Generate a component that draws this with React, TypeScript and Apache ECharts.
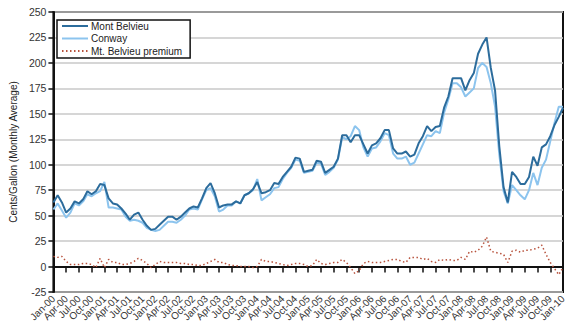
import React, { useEffect, useRef } from "react";
import * as echarts from "echarts";

const years = ["00", "01", "02", "03", "04", "05", "06", "07", "08", "09", "10"];
const monthNames = ["Jan", "Feb", "Mar", "Apr", "May", "Jun", "Jul", "Aug", "Sep", "Oct", "Nov", "Dec"];
const categories: string[] = [];
years.forEach((y, yi) => {
  monthNames.forEach((m, mi) => {
    if (yi === years.length - 1 && mi > 0) return;
    categories.push(`${m}-${y}`);
  });
});

const yTicks = { min: -25, max: 250, interval: 25 };

const montBelvieu = [
  63, 70, 63, 53, 57, 64, 62, 66, 74, 71, 74, 81,
  80, 67, 62, 61, 57, 52, 46, 51, 53, 46, 40, 36,
  37, 41, 45, 49, 49, 46, 49, 53, 57, 59, 58, 67,
  77, 82, 72, 58, 60, 61, 61, 64, 62, 70, 72, 76,
  83, 72, 73, 75, 82, 81, 88, 93, 98, 107, 106, 93,
  94, 95, 104, 103, 92, 95, 98, 106, 129, 129, 122, 129,
  129, 120, 111, 119, 121, 126, 134, 134, 116, 111, 111, 113,
  108, 110, 121, 128, 138, 133, 137, 138, 156, 167, 185, 185,
  185, 173, 183, 190, 209, 218, 225, 195, 173, 118, 78, 63,
  93, 88, 81, 81, 88, 108, 99, 117, 120, 128, 139, 147,
  156,
];

const conway = [
  56, 62, 55, 48, 53, 62, 60, 64, 71, 69, 72, 74,
  83, 58, 58, 57, 56, 49, 45, 46, 45, 43, 38, 36,
  35, 36, 40, 44, 44, 43, 46, 50, 56, 57, 56, 66,
  75, 77, 69, 54, 56, 60, 60, 64, 62, 70, 72, 75,
  86, 65, 68, 71, 77, 78, 86, 92, 97, 105, 104, 92,
  93, 94, 102, 101, 90, 93, 97, 105, 127, 125, 128, 138,
  134, 117, 108, 116, 117, 123, 131, 129, 111, 106, 106, 108,
  100, 102, 111, 120, 129, 128, 133, 131, 151, 164, 180, 180,
  176, 167, 171, 175, 195, 200, 196, 180, 157, 110, 74, 62,
  80, 75, 70, 66, 75, 92, 80, 97, 105, 123, 141, 157,
  157,
];

const premium = [
  10, 9, 10, 5, 2, 2, 2, 3, 3, 2, -1, 8,
  -1, 7, 4, 4, 2, 2, 3, 5, 8, 6, 3, -1,
  2, 5, 4, 4, 4, 4, 3, 3, 2, 2, 1, 1,
  3, 5, 7, 4, 4, 2, 1, 1, 0, 0, 0, -1,
  0, 7, 5, 5, 4, 3, 2, 1, 2, 3, 3, 2,
  0, 1, 7, 3, 2, 3, 4, 4, 7, 4, -1, -7,
  -4, 3, 5, 4, 4, 4, 5, 6, 7, 7, 5, 4,
  9, 9, 9, 7, 8, 5, 4, 7, 6, 7, 6, 6,
  9, 7, 15, 14, 16, 20, 29, 15, 14, 13, 12, 4,
  15, 16, 14, 16, 16, 17, 18, 21, 12, 4, -2, -8,
  -1,
];

const FONT = "'Liberation Sans', Arial, Helvetica, sans-serif";

export default function App() {
  const ref = useRef<HTMLDivElement>(null);
  useEffect(() => {
    if (!ref.current) return;
    const chart = echarts.init(ref.current, undefined, { renderer: "svg" });
    chart.setOption({
      animation: false,
      backgroundColor: "#ffffff",
      textStyle: { fontFamily: FONT },
      grid: {
        left: 41,
        right: 12,
        top: 12,
        bottom: 44,
        show: true,
        borderColor: "#111",
        borderWidth: 2,
        backgroundColor: "transparent",
      },
      legend: {
        orient: "vertical",
        left: 57,
        top: 20,
        padding: [1, 8, 2, 4],
        itemGap: 2.5,
        itemWidth: 26,
        itemHeight: 12,
        borderColor: "#111",
        borderWidth: 1.5,
        borderRadius: 0,
        backgroundColor: "#fff",
        textStyle: { fontFamily: FONT, fontSize: 10, color: "#222", padding: [0, 0, 0, -2] },
        data: [
          { name: "Mont Belvieu", itemStyle: { opacity: 0 } },
          { name: "Conway", itemStyle: { opacity: 0 } },
          { name: "Mt. Belvieu premium", itemStyle: { opacity: 0 } },
        ],
      },
      xAxis: {
        type: "category",
        data: categories,
        boundaryGap: false,
        axisLine: { show: true, lineStyle: { color: "#111", width: 2 } },
        axisTick: { show: true, interval: 2, length: 6, lineStyle: { color: "#111", width: 1.5 } },
        axisLabel: {
          interval: 0,
          formatter: (value: string, index: number) => (index % 3 === 0 ? value : ""),
          rotate: 45,
          fontSize: 10,
          color: "#333",
          fontFamily: FONT,
          margin: 5,
          showMinLabel: true,
          showMaxLabel: true,
          hideOverlap: false,
        },
        splitLine: { show: false },
      },
      yAxis: {
        type: "value",
        min: yTicks.min,
        max: yTicks.max,
        interval: yTicks.interval,
        name: "Cents/Gallon (Monthly Average)",
        nameLocation: "middle",
        nameGap: 28,
        nameRotate: 90,
        nameTextStyle: { fontSize: 10, color: "#222", fontFamily: FONT },
        axisLine: { show: true, lineStyle: { color: "#111", width: 2 } },
        axisTick: { show: true, length: 5, lineStyle: { color: "#111", width: 1.5 } },
        axisLabel: { fontSize: 10.5, color: "#333", fontFamily: FONT, margin: 7 },
        splitLine: { show: true, lineStyle: { color: "#c8c8c8", width: 1.5 } },
      },
      series: [
        {
          name: "Conway",
          type: "line",
          data: conway,
          symbol: "none",
          z: 2,
          itemStyle: { color: "#8cc4ee" },
          lineStyle: { color: "#8cc4ee", width: 2 },
        },
        {
          name: "Mont Belvieu",
          type: "line",
          data: montBelvieu,
          symbol: "none",
          z: 3,
          itemStyle: { color: "#2c6c9c" },
          lineStyle: { color: "#2c6c9c", width: 2 },
        },
        {
          name: "Mt. Belvieu premium",
          type: "line",
          data: premium,
          symbol: "none",
          z: 4,
          itemStyle: { color: "#b8533d" },
          lineStyle: { color: "#b8533d", width: 1.5, type: [1.5, 2.5] },
        },
      ],
    });
    return () => chart.dispose();
  }, []);
  return (
    <div
      ref={ref}
      style={{ position: "fixed", left: 0, top: 0, width: 575, height: 336 }}
    />
  );
}
